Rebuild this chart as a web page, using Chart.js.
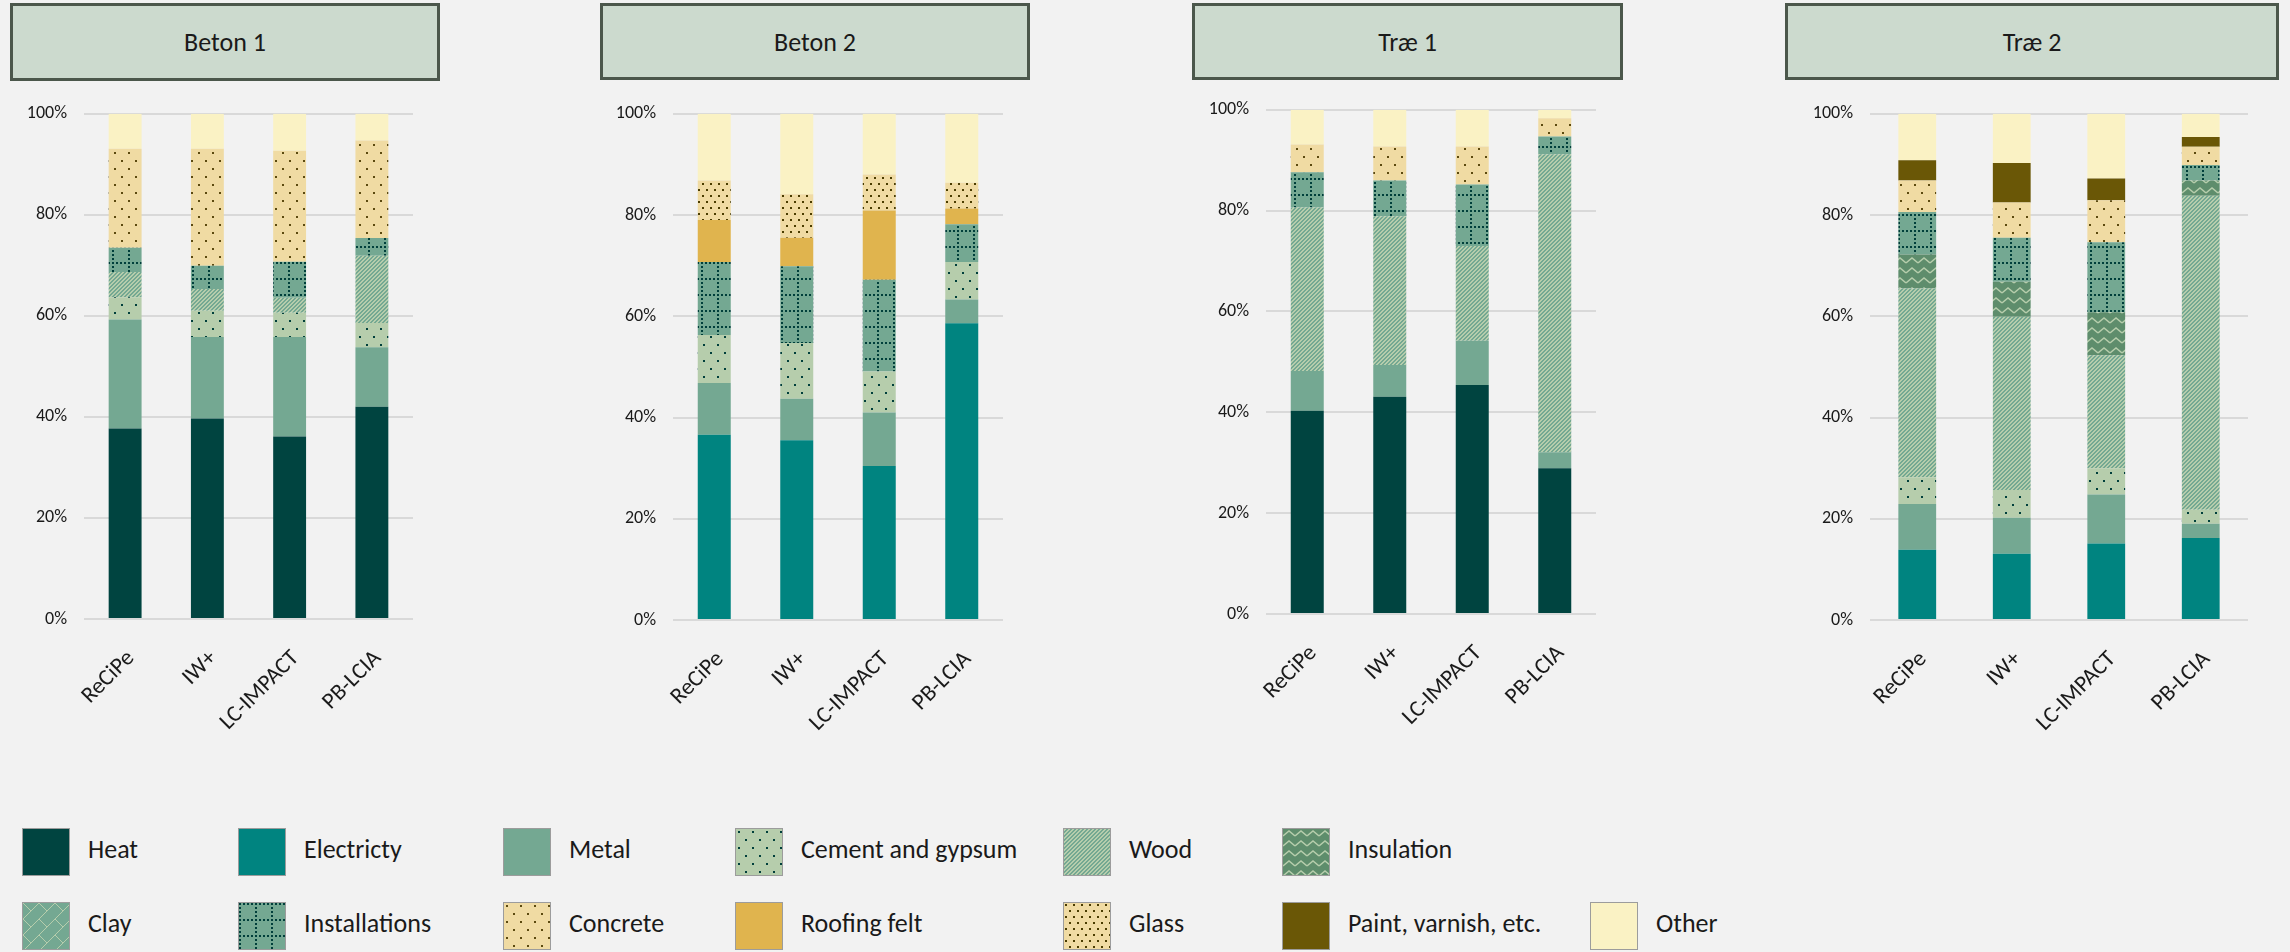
<!DOCTYPE html>
<html>
<head>
<meta charset="utf-8">
<script src="https://cdn.jsdelivr.net/npm/chart.js@4.4.1/dist/chart.umd.min.js"></script>
<style>
  html, body { margin: 0; padding: 0; background: #F2F2F2; }
  body { width: 2290px; height: 952px; position: relative; overflow: hidden;
         font-family: Carlito, Calibri, Lato, sans-serif; color: #1a1a1a; }
  .title { position: absolute; box-sizing: border-box; background: #CCDACE;
           border: 3px solid #4B574B; display: flex; align-items: center;
           justify-content: center; font-size: 26px; }
  canvas.panel { position: absolute; }
  .key { position: absolute; display: flex; align-items: center; height: 48px;
         font-size: 26px; white-space: nowrap; }
  .key canvas { border: 1px solid #9c9c9c; margin-right: 18px; }
  .key span { position: relative; top: -3px; }
</style>
</head>
<body>
<script>
const FONT = 'Carlito, Calibri, Lato, sans-serif';

const PANELS  = ['Beton 1', 'Beton 2', 'Træ 1', 'Træ 2'];
const METHODS = ['ReCiPe', 'IW+', 'LC-IMPACT', 'PB-LCIA'];
const MATERIALS = ['Heat', 'Electricty', 'Metal', 'Cement and gypsum', 'Wood', 'Insulation',
                   'Clay', 'Installations', 'Concrete', 'Roofing felt', 'Glass',
                   'Paint, varnish, etc.', 'Other'];

// shares in %, one row per material (same order as MATERIALS), one column per method
const BETON_1 = [
  [37.7, 39.7, 36.1, 42.0],  // Heat
  [0, 0, 0, 0],              // Electricty
  [21.6, 16.1, 19.7, 11.8],  // Metal
  [4.4, 5.2, 4.8, 4.8],      // Cement and gypsum
  [5.0, 4.3, 3.0, 13.3],     // Wood
  [0, 0, 0, 0],              // Insulation
  [0, 0, 0, 0],              // Clay
  [4.8, 4.6, 7.1, 3.5],      // Installations
  [19.6, 23.2, 22.0, 19.3],  // Concrete
  [0, 0, 0, 0],              // Roofing felt
  [0, 0, 0, 0],              // Glass
  [0, 0, 0, 0],              // Paint
  [6.9, 6.9, 7.3, 5.3],      // Other
];
const BETON_2 = [
  [0, 0, 0, 0],
  [36.6, 35.5, 30.4, 58.6],
  [10.2, 8.2, 10.6, 4.7],
  [9.5, 11.0, 8.1, 7.4],
  [0, 0, 0, 0],
  [0, 0, 0, 0],
  [0, 0, 0, 0],
  [14.4, 15.2, 18.1, 7.5],
  [0, 0, 0, 0],
  [8.3, 5.6, 13.7, 3.1],
  [7.8, 8.6, 7.1, 5.1],
  [0, 0, 0, 0],
  [13.2, 15.9, 12.0, 13.6],
];
const TRAE_1 = [
  [40.3, 43.1, 45.4, 28.9],
  [0, 0, 0, 0],
  [7.9, 6.3, 8.8, 3.2],
  [0, 0, 0, 0],
  [32.4, 29.5, 18.8, 59.1],
  [0, 0, 0, 0],
  [0, 0, 0, 0],
  [7.0, 7.1, 12.2, 3.5],
  [5.5, 6.7, 7.5, 3.6],
  [0, 0, 0, 0],
  [0, 0, 0, 0],
  [0, 0, 0, 0],
  [6.9, 7.3, 7.3, 1.7],
];
const TRAE_2 = [
  [0, 0, 0, 0],
  [13.9, 13.1, 15.1, 16.2],
  [9.0, 7.1, 9.7, 2.8],
  [5.3, 5.5, 5.2, 2.8],
  [37.3, 34.2, 22.3, 62.0],
  [6.7, 6.9, 8.5, 3.0],
  [0, 0, 0, 0],
  [8.4, 8.7, 13.8, 3.1],
  [6.2, 7.0, 8.3, 3.6],
  [0, 0, 0, 0],
  [0, 0, 0, 0],
  [4.0, 7.8, 4.3, 1.9],
  [9.2, 9.7, 12.8, 4.6],
];
const PANEL_DATA = [BETON_1, BETON_2, TRAE_1, TRAE_2];

// --- fills (plain colours and small bitmap patterns) ---
function tile(w, h, bg, paint) {
  const c = document.createElement('canvas');
  c.width = w; c.height = h;
  const g = c.getContext('2d');
  g.fillStyle = bg;
  g.fillRect(0, 0, w, h);
  paint(g, w, h);
  return g.createPattern(c, 'repeat');
}
const dots = (col, pts) => g => { g.fillStyle = col; pts.forEach(([x, y]) => g.fillRect(x, y, 2, 2)); };

const FILLS = [
  '#004440',
  '#008480',
  '#74A892',
  tile(14, 16, '#B6CDAC', dots('#003F3B', [[2, 2], [9, 10]])),
  tile(4, 4, '#74A892', g => {
    g.fillStyle = '#B6CDAC';
    for (let y = 0; y < 4; y++) for (let x = 0; x < 4; x++) if ((x + y) % 4 < 2) g.fillRect(x, y, 1, 1);
  }),
  tile(12, 10, '#5E8D6C', g => {
    g.strokeStyle = '#B6CDAC'; g.lineWidth = 1.5;
    g.beginPath(); g.moveTo(0, 7); g.lineTo(6, 2); g.lineTo(12, 7); g.stroke();
  }),
  tile(16, 16, '#74A892', g => {
    g.strokeStyle = '#B6CDAC'; g.lineWidth = 1;
    g.beginPath();
    g.moveTo(0, 16); g.lineTo(16, 0);
    g.moveTo(-8, 8); g.lineTo(8, -8);
    g.moveTo(8, 24); g.lineTo(24, 8);
    g.moveTo(0, 0); g.lineTo(8, 8);
    g.stroke();
  }),
  tile(16, 16, '#74A892', g => {
    g.fillStyle = '#003F3B';
    for (let i = 0; i < 4; i++) { g.fillRect(i * 4, 0, 2, 2); g.fillRect(0, i * 4, 2, 2); }
  }),
  tile(14, 16, '#F0DBA3', dots('#5C4A10', [[2, 2], [9, 10]])),
  '#E0B44E',
  tile(8, 12, '#F0DBA3', dots('#4A3C00', [[1, 1], [5, 7]])),
  '#6A5706',
  '#FAF2C4',
];

// --- layout ---
const Y_AXIS_W = 84, PAD_T = 24, PAD_R = 24, X_AXIS_H = 160;
const PLOTS = [
  { l: 84,   r: 413,  t: 110, b: 619 },
  { l: 673,  r: 1003, t: 110, b: 620 },
  { l: 1266, r: 1596, t: 106, b: 614 },
  { l: 1870, r: 2248, t: 110, b: 620 },
];
const TITLE_BOXES = [
  { l: 10,   t: 3, w: 430, h: 78 },
  { l: 600,  t: 3, w: 430, h: 77 },
  { l: 1192, t: 3, w: 431, h: 77 },
  { l: 1785, t: 3, w: 494, h: 77 },
];

PANELS.forEach((name, i) => {
  const box = TITLE_BOXES[i];
  const div = document.createElement('div');
  div.className = 'title';
  Object.assign(div.style, { left: box.l + 'px', top: box.t + 'px', width: box.w + 'px', height: box.h + 'px' });
  div.textContent = name;
  document.body.appendChild(div);

  const p = PLOTS[i];
  const cv = document.createElement('canvas');
  cv.className = 'panel';
  cv.width = Y_AXIS_W + (p.r - p.l) + PAD_R;
  cv.height = PAD_T + (p.b - p.t) + X_AXIS_H;
  cv.style.left = (p.l - Y_AXIS_W) + 'px';
  cv.style.top = (p.t - PAD_T) + 'px';
  document.body.appendChild(cv);

  const rows = PANEL_DATA[i];
  new Chart(cv, {
    type: 'bar',
    data: {
      labels: METHODS,
      datasets: MATERIALS.map((m, k) => ({
        label: m,
        data: rows[k],
        backgroundColor: FILLS[k],
        borderWidth: 0,
        categoryPercentage: 1,
        barPercentage: 0.4,
      })),
    },
    options: {
      responsive: false,
      animation: false,
      events: [],
      layout: { padding: { top: PAD_T, right: PAD_R, left: 0, bottom: 0 } },
      plugins: { legend: { display: false }, tooltip: { enabled: false } },
      scales: {
        x: {
          stacked: true,
          grid: { display: false },
          border: { display: false },
          ticks: {
            minRotation: 45, maxRotation: 45, autoSkip: false, padding: 18, labelOffset: 6,
            color: '#1a1a1a', font: { family: FONT, size: 23 },
          },
          afterFit: s => { s.height = X_AXIS_H; },
        },
        y: {
          stacked: true, min: 0, max: 100,
          grid: { color: '#D9D9D9', lineWidth: 2, drawTicks: false },
          border: { display: false },
          ticks: {
            stepSize: 20, padding: 17, callback: v => v + '%',
            color: '#1a1a1a', font: { family: FONT, size: 18 },
          },
          afterFit: s => { s.width = Y_AXIS_W; },
        },
      },
    },
  });
});

// --- legend ---
const KEY_COLS = [22, 238, 503, 735, 1063, 1282, 1590];
const KEY_ROWS = [828, 902];
MATERIALS.forEach((m, k) => {
  const row = k < 6 ? 0 : 1;
  const col = k < 6 ? k : k - 6;
  const item = document.createElement('div');
  item.className = 'key';
  item.style.left = KEY_COLS[col] + 'px';
  item.style.top = KEY_ROWS[row] + 'px';
  const sw = document.createElement('canvas');
  sw.width = 46; sw.height = 46;
  const g = sw.getContext('2d');
  g.fillStyle = FILLS[k];
  g.fillRect(0, 0, 46, 46);
  const label = document.createElement('span');
  label.textContent = m;
  item.appendChild(sw);
  item.appendChild(label);
  document.body.appendChild(item);
});
</script>
</body>
</html>
